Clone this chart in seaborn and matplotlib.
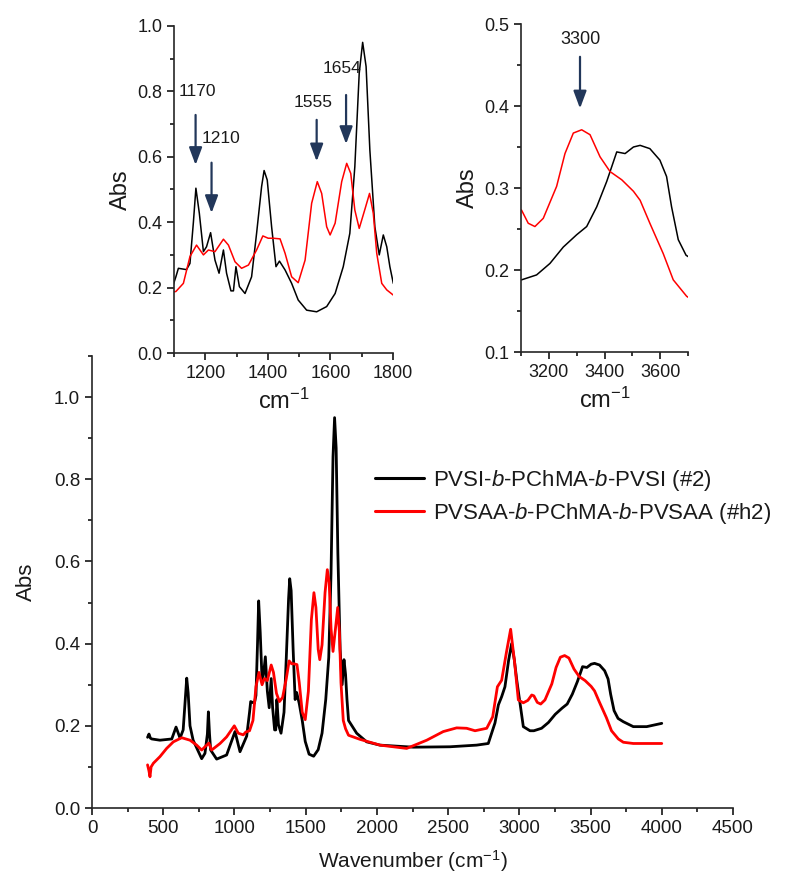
import numpy as np
import pandas as pd
import matplotlib
matplotlib.use("Agg")
import matplotlib.pyplot as plt
from matplotlib.ticker import MultipleLocator
import seaborn as sns

# ---------------- data ----------------
black_wn = [390, 400, 410, 420, 477, 560, 590, 618, 640, 665, 675, 688, 710, 770, 793, 810, 817, 825, 833,
            875, 945, 1004, 1039, 1086,
            1106, 1114, 1140, 1151, 1162, 1170, 1181, 1194, 1204, 1217, 1231, 1244, 1258, 1268, 1282, 1290,
            1298, 1309, 1327, 1348, 1364, 1380, 1388, 1398, 1412, 1426, 1437, 1455, 1476, 1497, 1524, 1556,
            1588, 1615, 1641, 1662, 1678, 1692, 1703, 1714, 1726, 1742, 1756, 1769, 1780, 1790, 1801,
            1858, 1928, 2022, 2256, 2513, 2700, 2782, 2829, 2853, 2876, 2899, 2925, 2946, 2965, 2982, 3028,
            3075, 3102, 3156, 3204, 3252, 3300, 3336, 3372, 3408, 3444, 3474, 3504, 3528, 3563, 3599, 3623,
            3641, 3665, 3693, 3730, 3800, 3894, 4000]
black_abs = [0.172, 0.18, 0.17, 0.168, 0.165, 0.168, 0.197, 0.17, 0.19, 0.316, 0.28, 0.2, 0.165, 0.12, 0.133,
             0.18, 0.234, 0.18, 0.141, 0.119, 0.129, 0.186, 0.137, 0.175,
             0.233, 0.259, 0.255, 0.274, 0.40, 0.504, 0.427, 0.31, 0.325, 0.368, 0.284, 0.244, 0.315, 0.244,
             0.19, 0.19, 0.264, 0.203, 0.182, 0.233, 0.366, 0.509, 0.558, 0.529, 0.386, 0.264, 0.281, 0.254,
             0.213, 0.162, 0.131, 0.126, 0.142, 0.182, 0.264, 0.366, 0.57, 0.855, 0.95, 0.876, 0.621, 0.386,
             0.30, 0.361, 0.325, 0.264, 0.213,
             0.182, 0.161, 0.153, 0.148, 0.149, 0.153, 0.157, 0.207, 0.251, 0.271, 0.295, 0.36, 0.40, 0.36,
             0.311, 0.198, 0.188, 0.188, 0.194, 0.208, 0.228, 0.243, 0.253, 0.277, 0.308, 0.344, 0.342, 0.35,
             0.352, 0.348, 0.334, 0.314, 0.277, 0.237, 0.218, 0.21, 0.198, 0.198, 0.206]

red_wn = [390, 400, 407, 415, 431, 477, 524, 571, 630, 688, 735, 770, 805, 820, 840, 899, 945, 999, 1027, 1062,
          1080, 1106, 1130, 1151, 1172, 1194, 1210, 1231, 1258, 1274, 1295, 1316, 1338, 1364, 1384, 1401, 1417,
          1439, 1455, 1476, 1497, 1519, 1540, 1558, 1572, 1588, 1599, 1615, 1636, 1652, 1665, 1678, 1692, 1711,
          1725, 1737, 1748, 1764, 1780, 1801,
          1882, 2022, 2209, 2350, 2466, 2560, 2630, 2689, 2771, 2813, 2846, 2876, 2910, 2939, 2965, 2993, 3028,
          3060, 3087, 3102, 3126, 3150, 3180, 3228, 3258, 3288, 3318, 3348, 3384, 3420, 3462, 3504, 3528, 3563,
          3611, 3647, 3695, 3730, 3800, 4000]
red_abs = [0.105, 0.09, 0.076, 0.1, 0.109, 0.125, 0.145, 0.161, 0.171, 0.165, 0.153, 0.141, 0.153, 0.158, 0.141,
           0.157, 0.173, 0.2, 0.182, 0.178,
           0.185, 0.188, 0.213, 0.295, 0.33, 0.30, 0.315, 0.31, 0.348, 0.33, 0.279, 0.259, 0.269, 0.315, 0.358,
           0.351, 0.351, 0.349, 0.305, 0.233, 0.215, 0.284, 0.458, 0.524, 0.488, 0.386, 0.361, 0.397, 0.524,
           0.58, 0.549, 0.437, 0.381, 0.442, 0.488, 0.427, 0.305, 0.213, 0.193, 0.177,
           0.167, 0.153, 0.145, 0.165, 0.186, 0.195, 0.194, 0.188, 0.194, 0.222, 0.295, 0.311, 0.38, 0.435,
           0.36, 0.263, 0.256, 0.262, 0.275, 0.273, 0.257, 0.253, 0.263, 0.302, 0.342, 0.367, 0.371, 0.365,
           0.338, 0.32, 0.31, 0.296, 0.285, 0.257, 0.22, 0.188, 0.168, 0.16, 0.157, 0.157]

series_names = ["PVSI-$\\mathit{b}$-PChMA-$\\mathit{b}$-PVSI (#2)",
                "PVSAA-$\\mathit{b}$-PChMA-$\\mathit{b}$-PVSAA (#h2)"]
series_colors = ["#000000", "#ff0000"]

peak_labels_1 = ["1170", "1210", "1555", "1654"]
peak_x_1 = [1169, 1220, 1556, 1650]
peak_start_1 = [0.728, 0.582, 0.713, 0.789]
peak_end_1 = [0.575, 0.428, 0.586, 0.639]
label_pos_1 = [(1175, 0.80), (1250, 0.655), (1545, 0.765), (1638, 0.87)]

peak_labels_2 = ["3300"]
peak_x_2 = [3312]
peak_start_2 = [0.46]
peak_end_2 = [0.397]
label_pos_2 = [(3312, 0.481)]

# ---------------- style ----------------
sns.set_style("ticks")
plt.rcParams["font.family"] = ["Liberation Sans", "DejaVu Sans"]
plt.rcParams["mathtext.fontset"] = "custom"
plt.rcParams["mathtext.rm"] = "Liberation Sans"
plt.rcParams["mathtext.it"] = "Liberation Sans:italic"
plt.rcParams["mathtext.bf"] = "Liberation Sans:bold"
plt.rcParams["axes.linewidth"] = 1.2
text_color = "#1a1a1a"
arrow_color = "#22375a"

df_b = pd.DataFrame({"wn": black_wn, "abs": black_abs, "s": series_names[0]})
df_r = pd.DataFrame({"wn": red_wn, "abs": red_abs, "s": series_names[1]})
df = pd.concat([df_b, df_r], ignore_index=True)

fig = plt.figure(figsize=(7.85, 8.8), dpi=100)

def style_axes(ax, fs):
    sns.despine(ax=ax)
    ax.tick_params(axis="both", which="major", direction="out", length=5, width=1.1,
                   labelsize=fs, colors="black", labelcolor=text_color)
    ax.tick_params(axis="both", which="minor", direction="out", length=3, width=1.1, colors="black")

arrow_props = dict(arrowstyle="-|>,head_width=0.28,head_length=0.75",
                   color=arrow_color, lw=1.6, mutation_scale=14, shrinkA=0, shrinkB=0)

# main axes
ax = fig.add_axes([92 / 785, 1 - 808 / 880, (733 - 92) / 785, (808 - 356) / 880])
sns.lineplot(data=df, x="wn", y="abs", hue="s", palette=series_colors, sort=False,
             estimator=None, linewidth=2.0, ax=ax)
ax.set_xlim(0, 4500)
ax.set_ylim(0, 1.1)
ax.set_xticks(np.arange(0, 4501, 500))
ax.xaxis.set_minor_locator(MultipleLocator(250))
ax.set_yticks(np.arange(0, 1.01, 0.2))
ax.set_yticklabels([f"{v:.1f}" for v in np.arange(0, 1.01, 0.2)])
ax.yaxis.set_minor_locator(MultipleLocator(0.1))
style_axes(ax, 13.5)
ax.set_xlabel("Wavenumber (cm$^{-1}$)", fontsize=15, color=text_color, labelpad=8)
ax.set_ylabel("Abs", fontsize=16, color=text_color, labelpad=12)
leg = ax.legend(loc="center left", bbox_to_anchor=(375 / 785, 1 - 497 / 880),
                bbox_transform=fig.transFigure, frameon=False, fontsize=16,
                handlelength=2.2, handletextpad=0.4, labelspacing=0.35,
                borderpad=0, borderaxespad=0)
for t in leg.get_texts():
    t.set_color(text_color)
for h in leg.get_lines():
    h.set_linewidth(2.2)

# inset 1
ax1 = fig.add_axes([174 / 785, 1 - 353 / 880, 219 / 785, 327 / 880])
sns.lineplot(data=df, x="wn", y="abs", hue="s", palette=series_colors, sort=False,
             estimator=None, linewidth=1.1, ax=ax1, legend=False)
ax1.set_xlim(1100, 1800)
ax1.set_ylim(0, 1.0)
ax1.set_xticks([1200, 1400, 1600, 1800])
ax1.xaxis.set_minor_locator(MultipleLocator(100))
ax1.set_yticks(np.arange(0, 1.01, 0.2))
ax1.set_yticklabels([f"{v:.1f}" for v in np.arange(0, 1.01, 0.2)])
ax1.yaxis.set_minor_locator(MultipleLocator(0.1))
style_axes(ax1, 13)
ax1.set_xlabel("cm$^{-1}$", fontsize=17, color=text_color, labelpad=5)
ax1.set_ylabel("Abs", fontsize=17, color=text_color, labelpad=4)
for lab, x, y0, y1, (tx, ty) in zip(peak_labels_1, peak_x_1, peak_start_1, peak_end_1, label_pos_1):
    ax1.annotate("", xy=(x, y1), xytext=(x, y0), arrowprops=arrow_props)
    ax1.text(tx, ty, lab, fontsize=12.5, color=text_color, ha="center", va="center")

# inset 2
ax2 = fig.add_axes([521 / 785, 1 - 352 / 880, 167 / 785, 328 / 880])
sns.lineplot(data=df, x="wn", y="abs", hue="s", palette=series_colors, sort=False,
             estimator=None, linewidth=1.1, ax=ax2, legend=False)
ax2.set_xlim(3100, 3700)
ax2.set_ylim(0.1, 0.5)
ax2.set_xticks([3200, 3400, 3600])
ax2.xaxis.set_minor_locator(MultipleLocator(100))
ax2.set_yticks(np.arange(0.1, 0.51, 0.1))
ax2.set_yticklabels([f"{v:.1f}" for v in np.arange(0.1, 0.51, 0.1)])
ax2.yaxis.set_minor_locator(MultipleLocator(0.05))
style_axes(ax2, 13)
ax2.set_xlabel("cm$^{-1}$", fontsize=17, color=text_color, labelpad=5)
ax2.set_ylabel("Abs", fontsize=17, color=text_color, labelpad=4)
for lab, x, y0, y1, (tx, ty) in zip(peak_labels_2, peak_x_2, peak_start_2, peak_end_2, label_pos_2):
    ax2.annotate("", xy=(x, y1), xytext=(x, y0), arrowprops=arrow_props)
    ax2.text(tx, ty, lab, fontsize=13, color=text_color, ha="center", va="center")

fig.savefig("out.png", dpi=100)
